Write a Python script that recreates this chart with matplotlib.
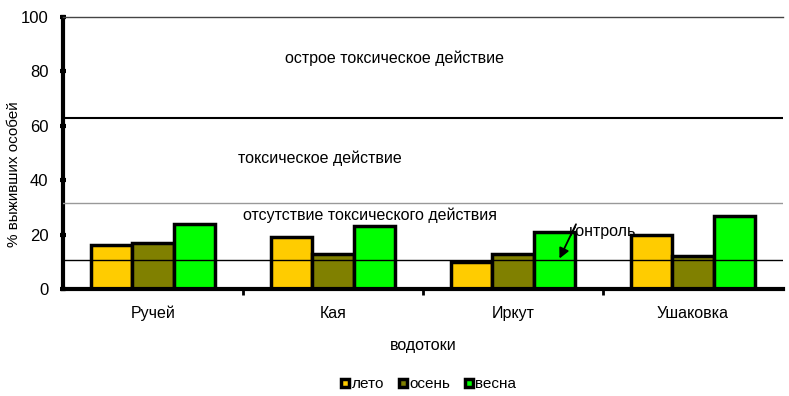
import matplotlib
matplotlib.use("Agg")
import matplotlib.pyplot as plt
from matplotlib.lines import Line2D
import numpy as np

plt.rcParams['font.family'] = ['Liberation Sans', 'DejaVu Sans']

rivers = ["Ручей", "Кая", "Иркут", "Ушаковка"]
seasons = ["лето", "осень", "весна"]
leto = [16, 19, 10, 20]
osen = [17, 13, 13, 12]
vesna = [24, 23, 21, 27]
colors = ["#FFCC00", "#808000", "#00FF00"]

# пороговые уровни
acute_level = 63
toxic_level = 31.5
control_level = 10.5

fig = plt.figure(figsize=(7.89, 3.96), dpi=100)
ax = fig.add_axes([63/789, 1-289/396, 720/789, 272/396])

x = np.arange(len(rivers))
w = 0.228
for i, (vals, c) in enumerate(zip([leto, osen, vesna], colors)):
    ax.bar(x + (i-1)*w, vals, w, color=c, edgecolor="black", linewidth=2.5, zorder=2)

ax.axhline(acute_level, color="black", lw=1.5, zorder=3)
ax.axhline(toxic_level, color="#999999", lw=1.0, zorder=3)
ax.axhline(control_level, color="black", lw=1.0, zorder=3)

ax.set_xlim(-0.5, 3.5)
ax.set_ylim(0, 100)
ax.set_yticks(range(0, 101, 20))
ax.set_xticks(x)
ax.set_xticklabels(rivers, fontsize=11.5)
ax.set_xticks([0.5, 1.5, 2.5], minor=True)
ax.tick_params(axis="x", which="major", length=0, pad=12)
ax.tick_params(axis="x", which="minor", length=4, width=2, direction="out")
ax.tick_params(axis="y", labelsize=12, length=5, width=3, direction="inout", pad=8)

ax.spines["left"].set_linewidth(3)
ax.spines["bottom"].set_linewidth(3)
ax.spines["right"].set_visible(False)
ax.spines["top"].set_linewidth(1)
ax.spines["top"].set_color("#444444")

fs = 11.5
ax.text(1.344, 85, "острое токсическое действие", ha="center", va="center", fontsize=fs)
ax.text(0.928, 48, "токсическое действие", ha="center", va="center", fontsize=fs)
ax.text(1.206, 27.2, "отсутствие токсического действия", ha="center", va="center", fontsize=fs)
ax.text(2.31, 21, "контроль", ha="left", va="center", fontsize=fs, zorder=4)
ax.annotate("", xy=(2.258, 11.2), xytext=(2.35, 23.8),
            arrowprops=dict(arrowstyle="-|>,head_length=0.6,head_width=0.3",
                            color="black", lw=1.3, shrinkA=0, shrinkB=0), zorder=4)

ax.set_xlabel("водотоки", fontsize=11.5, labelpad=12)
fig.text(0.018, 0.56, "% выживших особей", rotation=90, ha="center", va="center", fontsize=11)

handles = [Line2D([], [], marker="s", linestyle="none", markersize=6,
                  markerfacecolor=c, markeredgecolor="black", markeredgewidth=2.5)
           for c in colors]
fig.legend(handles, seasons, loc="center", bbox_to_anchor=(0.543, 0.03), ncol=3,
           frameon=False, fontsize=11, handlelength=0.6, handletextpad=0.15,
           columnspacing=0.9)

fig.savefig("out.png", dpi=100)
